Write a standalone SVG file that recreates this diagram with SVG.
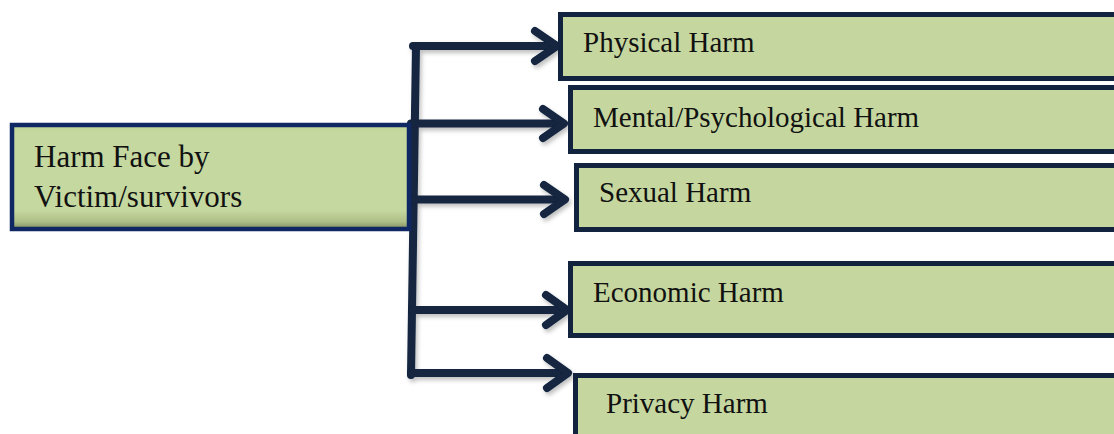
<svg xmlns="http://www.w3.org/2000/svg" width="1114" height="434" viewBox="0 0 1114 434">
  <defs>
    <linearGradient id="leftFill" x1="0" y1="0" x2="0" y2="1">
      <stop offset="0" stop-color="#bfd297"/>
      <stop offset="0.08" stop-color="#c5d89f"/>
      <stop offset="0.82" stop-color="#c5d89f"/>
      <stop offset="0.93" stop-color="#aebf88"/>
      <stop offset="1" stop-color="#7f8c5c"/>
    </linearGradient>
    <filter id="shadow" x="-5%" y="-20%" width="110%" height="140%">
      <feDropShadow dx="2" dy="3" stdDeviation="2" flood-color="#000" flood-opacity="0.25"/>
    </filter>
  </defs>
  <style>
    .box { fill: #c5d79f; stroke: #12233f; stroke-width: 5; }
    .lbl { font-family: "Liberation Serif", "Times New Roman", serif; font-size: 29px; fill: #111; }
    .conn { fill: none; stroke: #12253f; stroke-width: 8; stroke-linecap: round; stroke-linejoin: round; }
  </style>
  <rect width="1114" height="434" fill="#ffffff"/>

  <g id="connectors" filter="url(#shadow)">
    <path class="conn" d="M416 46 L411 375" stroke-linecap="butt"/>
    <path class="conn" d="M413 46 H555"/>
    <polyline class="conn" points="535,31 557,46 535,61"/>
    <path class="conn" d="M411 123.5 H562"/>
    <polyline class="conn" points="543,109 564,123.5 543,138"/>
    <path class="conn" d="M413 199.5 H563"/>
    <polyline class="conn" points="544,185 565,199.5 544,214"/>
    <path class="conn" d="M412 310 H565"/>
    <polyline class="conn" points="546,295 567,310 546,325"/>
    <path class="conn" d="M411 373 H566"/>
    <polyline class="conn" points="547,358 568,373 547,388"/>
  </g>

  <g id="node-source">
    <rect x="12" y="125" width="397" height="104" fill="url(#leftFill)" stroke="#0f2863" stroke-width="4.5"/>
    <text class="lbl" x="34" y="167" style="font-size:31px">Harm Face by</text>
    <text class="lbl" x="34" y="207" style="font-size:31px">Victim/survivors</text>
  </g>

  <g id="node-physical">
    <rect class="box" x="560.5" y="14.5" width="600" height="64"/>
    <text class="lbl" x="583" y="52">Physical Harm</text>
  </g>

  <g id="node-mental">
    <rect class="box" x="570.5" y="87.5" width="600" height="64"/>
    <text class="lbl" x="593" y="127">Mental/Psychological Harm</text>
  </g>

  <g id="node-sexual">
    <rect class="box" x="576.5" y="165.5" width="600" height="64"/>
    <text class="lbl" x="599" y="202">Sexual Harm</text>
  </g>

  <g id="node-economic">
    <rect class="box" x="570.5" y="263.5" width="600" height="72"/>
    <text class="lbl" x="593" y="302">Economic Harm</text>
  </g>

  <g id="node-privacy">
    <rect class="box" x="575.5" y="375.5" width="600" height="80"/>
    <text class="lbl" x="606" y="413">Privacy Harm</text>
  </g>
</svg>
